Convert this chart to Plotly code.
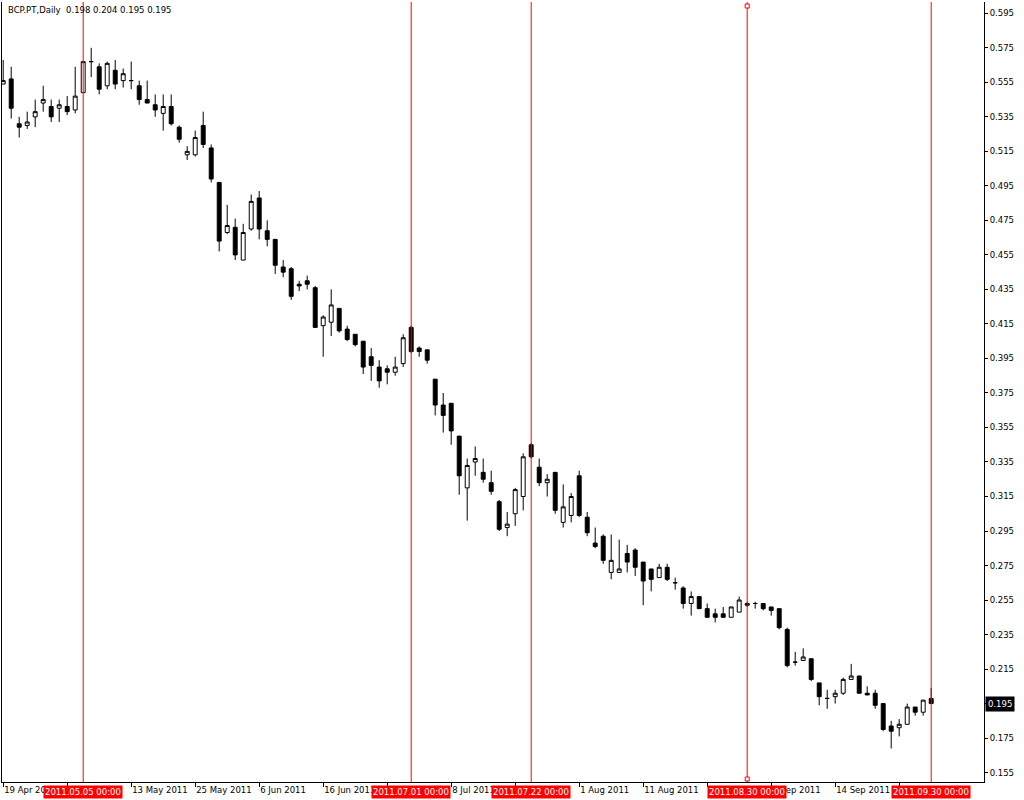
import pandas as pd
import plotly.graph_objects as go

# ---------------- data ----------------
symbol_title = "BCP.PT,Daily"
holidays = ["2011-04-22", "2011-04-25"]
dates = [d for d in pd.bdate_range("2011-04-19", "2011-09-30")
         if d.strftime("%Y-%m-%d") not in holidays]

opens = [0.554, 0.557, 0.531, 0.530, 0.535, 0.543, 0.541, 0.540, 0.541, 0.539,
         0.549, 0.567, 0.564, 0.553, 0.562, 0.556, 0.556, 0.553, 0.545, 0.542,
         0.537, 0.541, 0.529, 0.513, 0.513, 0.530, 0.517, 0.497, 0.468, 0.471,
         0.452, 0.470, 0.488, 0.469, 0.464, 0.448, 0.447, 0.438, 0.440, 0.436,
         0.414, 0.416, 0.424, 0.412, 0.409, 0.405, 0.396, 0.390, 0.389, 0.387,
         0.392, 0.413, 0.401, 0.400, 0.383, 0.368, 0.369, 0.350, 0.320, 0.335,
         0.329, 0.323, 0.312, 0.297, 0.305, 0.315, 0.345, 0.332, 0.323, 0.329,
         0.300, 0.304, 0.327, 0.303, 0.288, 0.292, 0.271, 0.271, 0.282, 0.284,
         0.277, 0.273, 0.268, 0.274, 0.265, 0.262, 0.253, 0.257, 0.250, 0.247,
         0.247, 0.245, 0.248, 0.253, 0.253, 0.253, 0.251, 0.250, 0.238, 0.219,
         0.220, 0.221, 0.207, 0.198, 0.199, 0.201, 0.209, 0.211, 0.201, 0.201,
         0.195, 0.182, 0.181, 0.183, 0.193, 0.190, 0.198]
highs = [0.568, 0.564, 0.535, 0.538, 0.545, 0.553, 0.545, 0.545, 0.547, 0.564,
         0.567, 0.575, 0.566, 0.567, 0.568, 0.563, 0.567, 0.556, 0.556, 0.548,
         0.548, 0.548, 0.530, 0.518, 0.527, 0.538, 0.519, 0.497, 0.484, 0.476,
         0.473, 0.490, 0.492, 0.475, 0.464, 0.452, 0.448, 0.440, 0.443, 0.437,
         0.420, 0.435, 0.424, 0.414, 0.409, 0.405, 0.401, 0.394, 0.391, 0.396,
         0.409, 0.414, 0.402, 0.400, 0.383, 0.375, 0.369, 0.350, 0.337, 0.344,
         0.337, 0.330, 0.313, 0.306, 0.320, 0.340, 0.346, 0.337, 0.328, 0.329,
         0.322, 0.317, 0.330, 0.306, 0.297, 0.293, 0.293, 0.290, 0.287, 0.285,
         0.277, 0.273, 0.276, 0.276, 0.268, 0.263, 0.260, 0.257, 0.253, 0.250,
         0.251, 0.251, 0.257, 0.254, 0.254, 0.253, 0.251, 0.250, 0.239, 0.225,
         0.227, 0.221, 0.207, 0.203, 0.203, 0.210, 0.218, 0.211, 0.205, 0.203,
         0.195, 0.185, 0.186, 0.195, 0.193, 0.197, 0.204]
lows = [0.554, 0.534, 0.523, 0.528, 0.529, 0.538, 0.532, 0.532, 0.536, 0.537,
        0.549, 0.558, 0.548, 0.551, 0.551, 0.552, 0.551, 0.542, 0.543, 0.535,
        0.527, 0.530, 0.520, 0.510, 0.512, 0.517, 0.497, 0.457, 0.467, 0.452,
        0.452, 0.469, 0.464, 0.460, 0.444, 0.442, 0.429, 0.434, 0.435, 0.413,
        0.396, 0.408, 0.410, 0.405, 0.402, 0.386, 0.382, 0.378, 0.380, 0.385,
        0.390, 0.398, 0.396, 0.392, 0.362, 0.352, 0.345, 0.316, 0.301, 0.327,
        0.323, 0.316, 0.295, 0.292, 0.298, 0.307, 0.337, 0.321, 0.315, 0.305,
        0.297, 0.300, 0.303, 0.292, 0.285, 0.276, 0.267, 0.271, 0.271, 0.269,
        0.252, 0.260, 0.268, 0.266, 0.261, 0.250, 0.246, 0.250, 0.245, 0.242,
        0.245, 0.245, 0.248, 0.251, 0.250, 0.249, 0.246, 0.238, 0.216, 0.217,
        0.220, 0.208, 0.194, 0.192, 0.195, 0.200, 0.209, 0.201, 0.200, 0.192,
        0.179, 0.169, 0.176, 0.183, 0.188, 0.188, 0.195]
closes = [0.556, 0.540, 0.529, 0.532, 0.538, 0.545, 0.535, 0.542, 0.538, 0.547,
          0.567, 0.567, 0.551, 0.566, 0.554, 0.560, 0.556, 0.545, 0.543, 0.539,
          0.541, 0.531, 0.522, 0.515, 0.523, 0.519, 0.499, 0.463, 0.472, 0.455,
          0.468, 0.486, 0.470, 0.464, 0.449, 0.445, 0.431, 0.437, 0.438, 0.413,
          0.419, 0.426, 0.411, 0.406, 0.403, 0.390, 0.391, 0.382, 0.387, 0.390,
          0.407, 0.399, 0.399, 0.394, 0.368, 0.362, 0.353, 0.327, 0.333, 0.337,
          0.325, 0.318, 0.296, 0.299, 0.319, 0.338, 0.338, 0.323, 0.325, 0.307,
          0.309, 0.315, 0.304, 0.294, 0.286, 0.278, 0.278, 0.273, 0.277, 0.274,
          0.266, 0.267, 0.274, 0.267, 0.265, 0.253, 0.257, 0.250, 0.245, 0.245,
          0.245, 0.251, 0.255, 0.252, 0.253, 0.250, 0.249, 0.239, 0.217, 0.219,
          0.222, 0.209, 0.199, 0.198, 0.201, 0.209, 0.211, 0.201, 0.200, 0.194,
          0.180, 0.179, 0.183, 0.193, 0.190, 0.197, 0.195]

tick_every = 8
vline_dates = ["2011-05-05", "2011-07-01", "2011-07-22", "2011-08-30", "2011-09-30"]
selected_vline = "2011-08-30"
y_ticks = [0.155, 0.175, 0.195, 0.215, 0.235, 0.255, 0.275, 0.295, 0.315, 0.335,
           0.355, 0.375, 0.395, 0.415, 0.435, 0.455, 0.475, 0.495, 0.515, 0.535,
           0.555, 0.575, 0.595]
y_range = [0.14956, 0.60155]
x_range = [-0.15, 122.6]

# ---------------- figure ----------------
FONT = "Tahoma, DejaVu Sans, sans-serif"
idx = list(range(len(dates)))
date_str = [d.strftime("%Y-%m-%d") for d in dates]

fig = go.Figure(go.Candlestick(
    x=idx, open=opens, high=highs, low=lows, close=closes,
    increasing=dict(line=dict(color="black", width=1), fillcolor="white"),
    decreasing=dict(line=dict(color="black", width=1), fillcolor="black"),
    whiskerwidth=0, hoverinfo="skip", showlegend=False,
))

tick_vals = idx[::tick_every]
tick_text = [f"{dates[i].day} {dates[i].strftime('%b %Y')}" for i in tick_vals]

shapes = []
annotations = []
for vd in vline_dates:
    xi = date_str.index(vd)
    shapes.append(dict(type="line", xref="x", yref="paper", x0=xi, x1=xi, y0=0, y1=1,
                       line=dict(color="#ff0000", width=1), layer="above"))
    annotations.append(dict(
        x=xi, xref="x", y=0, yref="paper", yanchor="top", xanchor="center", yshift=-3,
        text=pd.Timestamp(vd).strftime("%Y.%m.%d 00:00"), showarrow=False,
        bgcolor="#ff0000", borderpad=1, font=dict(family=FONT, size=8.5, color="white")))
    if vd == selected_vline:
        for ya in (1, 0):
            shapes.append(dict(type="rect", xref="x", yref="paper",
                               xsizemode="pixel", ysizemode="pixel",
                               xanchor=xi, yanchor=ya, x0=-2, x1=2,
                               y0=(-6 if ya == 1 else 1), y1=(-2 if ya == 1 else 5),
                               line=dict(color="#ff0000", width=1), fillcolor="white"))

annotations.append(dict(
    x=0, xref="paper", y=1, yref="paper", xanchor="left", yanchor="top", xshift=4, yshift=-1,
    text=f"{symbol_title}&nbsp; {opens[-1]:.3f} {highs[-1]:.3f} {lows[-1]:.3f} {closes[-1]:.3f}",
    showarrow=False, font=dict(family=FONT, size=8.5, color="black")))
annotations.append(dict(
    x=1, xref="paper", y=closes[-1], yref="y", xanchor="left", yanchor="middle", xshift=1,
    text=f"{closes[-1]:.3f}", showarrow=False, bgcolor="black", borderpad=2,
    font=dict(family=FONT, size=8.5, color="white")))

fig.update_layout(
    width=1024, height=800,
    margin=dict(l=2, r=40, t=2, b=18, pad=0, autoexpand=False),
    paper_bgcolor="white", plot_bgcolor="white",
    showlegend=False, shapes=shapes, annotations=annotations,
    xaxis=dict(range=x_range, tickvals=tick_vals, ticktext=tick_text,
               tickangle=0, automargin=False,
               ticks="outside", ticklen=4, tickcolor="black", tickwidth=1,
               ticklabelposition="outside right",
               showline=True, linecolor="black", linewidth=1,
               showgrid=False, zeroline=False, rangeslider=dict(visible=False),
               tickfont=dict(family=FONT, size=8.5, color="black")),
    yaxis=dict(range=y_range, side="right", tickvals=y_ticks, tickformat=".3f",
               automargin=False,
               ticks="outside", ticklen=3, tickcolor="black", tickwidth=1,
               showline=True, mirror=True, linecolor="black", linewidth=1,
               showgrid=False, zeroline=False,
               tickfont=dict(family=FONT, size=8.5, color="black")),
)

fig.write_html("out.html", post_script="document.body.style.margin='0';",
               config={"displayModeBar": False})
